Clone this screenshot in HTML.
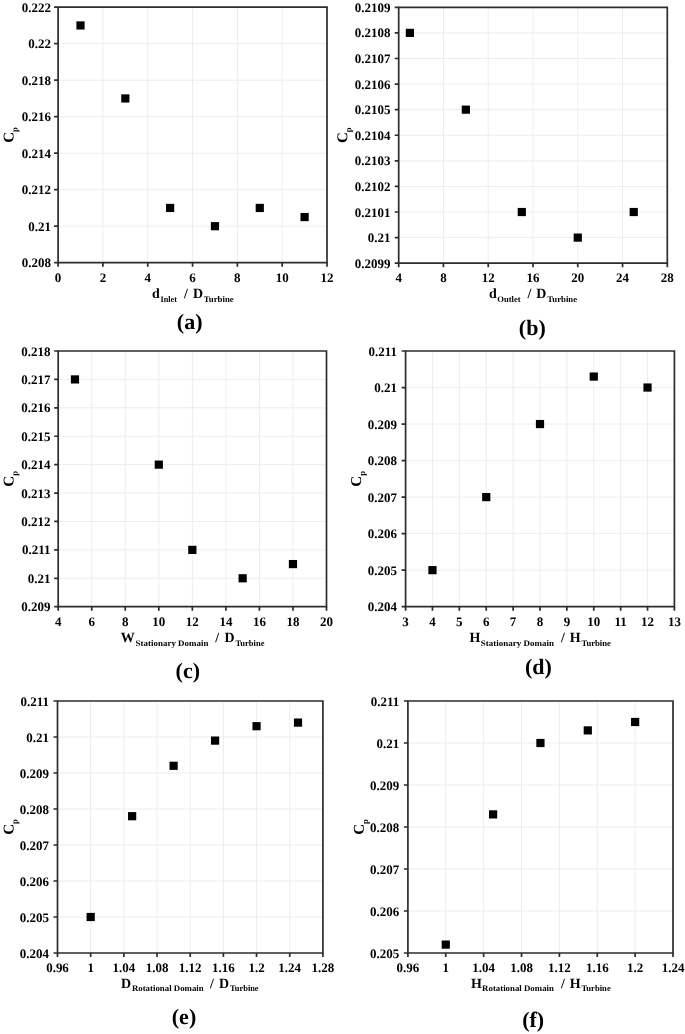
<!DOCTYPE html><html><head><meta charset="utf-8"><title>Cp figure</title><style>
html,body{margin:0;padding:0;background:#fff;width:685px;height:1034px;overflow:hidden}
svg{display:block}text{font-family:"Liberation Serif",serif;font-weight:bold;fill:#000}
.t{font-size:13.00px}.s{font-size:8.50px}.m{font-size:14.00px}.p{font-size:22.00px}
</style></head><body>
<svg width="685" height="1034" viewBox="0 0 685 1034">
<g style="filter:opacity(1)">
<path d="M102.92 7.20V262.70M147.73 7.20V262.70M192.55 7.20V262.70M237.37 7.20V262.70M282.18 7.20V262.70M58.10 226.20H327.00M58.10 189.70H327.00M58.10 153.20H327.00M58.10 116.70H327.00M58.10 80.20H327.00M58.10 43.70H327.00" stroke="#ededed" stroke-width="1" fill="none"/>
<path d="M58.10 7.20H327.00V262.70H58.10Z" stroke="#2c2c2c" stroke-width="1.70" fill="none"/>
<path d="M58.10 262.70V266.70M102.92 262.70V266.70M147.73 262.70V266.70M192.55 262.70V266.70M237.37 262.70V266.70M282.18 262.70V266.70M327.00 262.70V266.70M54.10 262.70H58.10M54.10 226.20H58.10M54.10 189.70H58.10M54.10 153.20H58.10M54.10 116.70H58.10M54.10 80.20H58.10M54.10 43.70H58.10M54.10 7.20H58.10" stroke="#2c2c2c" stroke-width="1.70" fill="none"/>
<text class="t" transform="translate(58.10 282.00) skewX(0.1)" text-anchor="middle">0</text>
<text class="t" transform="translate(102.92 282.00) skewX(0.1)" text-anchor="middle">2</text>
<text class="t" transform="translate(147.73 282.00) skewX(0.1)" text-anchor="middle">4</text>
<text class="t" transform="translate(192.55 282.00) skewX(0.1)" text-anchor="middle">6</text>
<text class="t" transform="translate(237.37 282.00) skewX(0.1)" text-anchor="middle">8</text>
<text class="t" transform="translate(282.18 282.00) skewX(0.1)" text-anchor="middle">10</text>
<text class="t" transform="translate(327.00 282.00) skewX(0.1)" text-anchor="middle">12</text>
<text class="t" transform="translate(50.90 267.00) skewX(0.1)" text-anchor="end">0.208</text>
<text class="t" transform="translate(50.90 231.00) skewX(0.1)" text-anchor="end">0.21</text>
<text class="t" transform="translate(50.90 194.00) skewX(0.1)" text-anchor="end">0.212</text>
<text class="t" transform="translate(50.90 158.00) skewX(0.1)" text-anchor="end">0.214</text>
<text class="t" transform="translate(50.90 121.00) skewX(0.1)" text-anchor="end">0.216</text>
<text class="t" transform="translate(50.90 85.00) skewX(0.1)" text-anchor="end">0.218</text>
<text class="t" transform="translate(50.90 48.00) skewX(0.1)" text-anchor="end">0.22</text>
<text class="t" transform="translate(50.90 12.00) skewX(0.1)" text-anchor="end">0.222</text>
<rect x="76.41" y="21.35" width="8.20" height="8.20" fill="#000"/>
<rect x="121.22" y="94.35" width="8.20" height="8.20" fill="#000"/>
<rect x="166.04" y="203.85" width="8.20" height="8.20" fill="#000"/>
<rect x="210.86" y="222.10" width="8.20" height="8.20" fill="#000"/>
<rect x="255.67" y="203.85" width="8.20" height="8.20" fill="#000"/>
<rect x="300.49" y="212.97" width="8.20" height="8.20" fill="#000"/>
<text class="cp" transform="translate(13.40 134.95) rotate(-89.9)" text-anchor="middle" style="font-size:15.00px">C<tspan dy="4.10" style="font-size:8.50px">p</tspan></text>
<text class="m k0" transform="translate(152.10 297.80) skewX(0.1)">d</text>
<text class="s k1" transform="translate(160.50 301.60) skewX(0.1)" textLength="16.40" lengthAdjust="spacingAndGlyphs">Inlet</text>
<text class="m k2" transform="translate(183.90 297.80) skewX(0.1)">/</text>
<text class="m k3" transform="translate(193.00 297.80) skewX(0.1)">D</text>
<text class="s k4" transform="translate(203.80 301.60) skewX(0.1)" textLength="29.90" lengthAdjust="spacingAndGlyphs">Turbine</text>
<text class="p pl" transform="translate(189.70 328.60) skewX(0.1)" text-anchor="middle">(a)</text>
<path d="M443.47 7.30V263.20M488.23 7.30V263.20M533.00 7.30V263.20M577.77 7.30V263.20M622.53 7.30V263.20M398.70 237.61H667.30M398.70 212.02H667.30M398.70 186.43H667.30M398.70 160.84H667.30M398.70 135.25H667.30M398.70 109.66H667.30M398.70 84.07H667.30M398.70 58.48H667.30M398.70 32.89H667.30" stroke="#ededed" stroke-width="1" fill="none"/>
<path d="M398.70 7.30H667.30V263.20H398.70Z" stroke="#2c2c2c" stroke-width="1.70" fill="none"/>
<path d="M398.70 263.20V267.20M443.47 263.20V267.20M488.23 263.20V267.20M533.00 263.20V267.20M577.77 263.20V267.20M622.53 263.20V267.20M667.30 263.20V267.20M394.70 263.20H398.70M394.70 237.61H398.70M394.70 212.02H398.70M394.70 186.43H398.70M394.70 160.84H398.70M394.70 135.25H398.70M394.70 109.66H398.70M394.70 84.07H398.70M394.70 58.48H398.70M394.70 32.89H398.70M394.70 7.30H398.70" stroke="#2c2c2c" stroke-width="1.70" fill="none"/>
<text class="t" transform="translate(398.70 282.00) skewX(0.1)" text-anchor="middle">4</text>
<text class="t" transform="translate(443.47 282.00) skewX(0.1)" text-anchor="middle">8</text>
<text class="t" transform="translate(488.23 282.00) skewX(0.1)" text-anchor="middle">12</text>
<text class="t" transform="translate(533.00 282.00) skewX(0.1)" text-anchor="middle">16</text>
<text class="t" transform="translate(577.77 282.00) skewX(0.1)" text-anchor="middle">20</text>
<text class="t" transform="translate(622.53 282.00) skewX(0.1)" text-anchor="middle">24</text>
<text class="t" transform="translate(667.30 282.00) skewX(0.1)" text-anchor="middle">28</text>
<text class="t" transform="translate(390.60 268.00) skewX(0.1)" text-anchor="end">0.2099</text>
<text class="t" transform="translate(390.60 242.00) skewX(0.1)" text-anchor="end">0.21</text>
<text class="t" transform="translate(390.60 217.00) skewX(0.1)" text-anchor="end">0.2101</text>
<text class="t" transform="translate(390.60 191.00) skewX(0.1)" text-anchor="end">0.2102</text>
<text class="t" transform="translate(390.60 165.00) skewX(0.1)" text-anchor="end">0.2103</text>
<text class="t" transform="translate(390.60 140.00) skewX(0.1)" text-anchor="end">0.2104</text>
<text class="t" transform="translate(390.60 114.00) skewX(0.1)" text-anchor="end">0.2105</text>
<text class="t" transform="translate(390.60 89.00) skewX(0.1)" text-anchor="end">0.2106</text>
<text class="t" transform="translate(390.60 63.00) skewX(0.1)" text-anchor="end">0.2107</text>
<text class="t" transform="translate(390.60 37.00) skewX(0.1)" text-anchor="end">0.2108</text>
<text class="t" transform="translate(390.60 12.00) skewX(0.1)" text-anchor="end">0.2109</text>
<rect x="405.79" y="28.79" width="8.20" height="8.20" fill="#000"/>
<rect x="461.75" y="105.56" width="8.20" height="8.20" fill="#000"/>
<rect x="517.71" y="207.92" width="8.20" height="8.20" fill="#000"/>
<rect x="573.67" y="233.51" width="8.20" height="8.20" fill="#000"/>
<rect x="629.62" y="207.92" width="8.20" height="8.20" fill="#000"/>
<text class="cp" transform="translate(347.20 135.25) rotate(-89.9)" text-anchor="middle" style="font-size:15.00px">C<tspan dy="4.10" style="font-size:8.50px">p</tspan></text>
<text class="m k0" transform="translate(489.00 298.10) skewX(0.1)">d</text>
<text class="s k1" transform="translate(497.30 302.00) skewX(0.1)" textLength="23.30" lengthAdjust="spacingAndGlyphs">Outlet</text>
<text class="m k2" transform="translate(527.60 298.10) skewX(0.1)">/</text>
<text class="m k3" transform="translate(536.30 298.10) skewX(0.1)">D</text>
<text class="s k4" transform="translate(547.30 302.00) skewX(0.1)" textLength="29.80" lengthAdjust="spacingAndGlyphs">Turbine</text>
<text class="p pl" transform="translate(532.30 334.50) skewX(0.1)" text-anchor="middle">(b)</text>
<path d="M91.74 351.00V606.70M125.28 351.00V606.70M158.81 351.00V606.70M192.35 351.00V606.70M225.89 351.00V606.70M259.43 351.00V606.70M292.96 351.00V606.70M58.20 578.29H326.50M58.20 549.88H326.50M58.20 521.47H326.50M58.20 493.06H326.50M58.20 464.64H326.50M58.20 436.23H326.50M58.20 407.82H326.50M58.20 379.41H326.50" stroke="#ededed" stroke-width="1" fill="none"/>
<path d="M58.20 351.00H326.50V606.70H58.20Z" stroke="#2c2c2c" stroke-width="1.70" fill="none"/>
<path d="M58.20 606.70V610.70M91.74 606.70V610.70M125.28 606.70V610.70M158.81 606.70V610.70M192.35 606.70V610.70M225.89 606.70V610.70M259.43 606.70V610.70M292.96 606.70V610.70M326.50 606.70V610.70M54.20 606.70H58.20M54.20 578.29H58.20M54.20 549.88H58.20M54.20 521.47H58.20M54.20 493.06H58.20M54.20 464.64H58.20M54.20 436.23H58.20M54.20 407.82H58.20M54.20 379.41H58.20M54.20 351.00H58.20" stroke="#2c2c2c" stroke-width="1.70" fill="none"/>
<text class="t" transform="translate(58.20 626.00) skewX(0.1)" text-anchor="middle">4</text>
<text class="t" transform="translate(91.74 626.00) skewX(0.1)" text-anchor="middle">6</text>
<text class="t" transform="translate(125.28 626.00) skewX(0.1)" text-anchor="middle">8</text>
<text class="t" transform="translate(158.81 626.00) skewX(0.1)" text-anchor="middle">10</text>
<text class="t" transform="translate(192.35 626.00) skewX(0.1)" text-anchor="middle">12</text>
<text class="t" transform="translate(225.89 626.00) skewX(0.1)" text-anchor="middle">14</text>
<text class="t" transform="translate(259.43 626.00) skewX(0.1)" text-anchor="middle">16</text>
<text class="t" transform="translate(292.96 626.00) skewX(0.1)" text-anchor="middle">18</text>
<text class="t" transform="translate(326.50 626.00) skewX(0.1)" text-anchor="middle">20</text>
<text class="t" transform="translate(50.60 611.00) skewX(0.1)" text-anchor="end">0.209</text>
<text class="t" transform="translate(50.60 583.00) skewX(0.1)" text-anchor="end">0.21</text>
<text class="t" transform="translate(50.60 554.00) skewX(0.1)" text-anchor="end">0.211</text>
<text class="t" transform="translate(50.60 526.00) skewX(0.1)" text-anchor="end">0.212</text>
<text class="t" transform="translate(50.60 498.00) skewX(0.1)" text-anchor="end">0.213</text>
<text class="t" transform="translate(50.60 469.00) skewX(0.1)" text-anchor="end">0.214</text>
<text class="t" transform="translate(50.60 441.00) skewX(0.1)" text-anchor="end">0.215</text>
<text class="t" transform="translate(50.60 412.00) skewX(0.1)" text-anchor="end">0.216</text>
<text class="t" transform="translate(50.60 384.00) skewX(0.1)" text-anchor="end">0.217</text>
<text class="t" transform="translate(50.60 356.00) skewX(0.1)" text-anchor="end">0.218</text>
<rect x="70.87" y="375.31" width="8.20" height="8.20" fill="#000"/>
<rect x="154.71" y="460.54" width="8.20" height="8.20" fill="#000"/>
<rect x="188.25" y="545.78" width="8.20" height="8.20" fill="#000"/>
<rect x="238.56" y="574.19" width="8.20" height="8.20" fill="#000"/>
<rect x="288.86" y="559.98" width="8.20" height="8.20" fill="#000"/>
<text class="cp" transform="translate(13.50 478.85) rotate(-89.9)" text-anchor="middle" style="font-size:15.00px">C<tspan dy="4.10" style="font-size:8.50px">p</tspan></text>
<text class="m k0" transform="translate(120.80 641.90) skewX(0.1)">W</text>
<text class="s k1" transform="translate(135.60 645.90) skewX(0.1)" textLength="72.80" lengthAdjust="spacingAndGlyphs">Stationary Domain</text>
<text class="m k2" transform="translate(215.20 641.90) skewX(0.1)">/</text>
<text class="m k3" transform="translate(224.40 641.90) skewX(0.1)">D</text>
<text class="s k4" transform="translate(235.50 645.90) skewX(0.1)" textLength="28.90" lengthAdjust="spacingAndGlyphs">Turbine</text>
<text class="p pl" transform="translate(187.80 678.20) skewX(0.1)" text-anchor="middle">(c)</text>
<path d="M432.48 351.00V606.70M459.36 351.00V606.70M486.24 351.00V606.70M513.12 351.00V606.70M540.00 351.00V606.70M566.88 351.00V606.70M593.76 351.00V606.70M620.64 351.00V606.70M647.52 351.00V606.70M405.60 570.17H674.40M405.60 533.64H674.40M405.60 497.11H674.40M405.60 460.59H674.40M405.60 424.06H674.40M405.60 387.53H674.40" stroke="#ededed" stroke-width="1" fill="none"/>
<path d="M405.60 351.00H674.40V606.70H405.60Z" stroke="#2c2c2c" stroke-width="1.70" fill="none"/>
<path d="M405.60 606.70V610.70M432.48 606.70V610.70M459.36 606.70V610.70M486.24 606.70V610.70M513.12 606.70V610.70M540.00 606.70V610.70M566.88 606.70V610.70M593.76 606.70V610.70M620.64 606.70V610.70M647.52 606.70V610.70M674.40 606.70V610.70M401.60 606.70H405.60M401.60 570.17H405.60M401.60 533.64H405.60M401.60 497.11H405.60M401.60 460.59H405.60M401.60 424.06H405.60M401.60 387.53H405.60M401.60 351.00H405.60" stroke="#2c2c2c" stroke-width="1.70" fill="none"/>
<text class="t" transform="translate(405.60 626.00) skewX(0.1)" text-anchor="middle">3</text>
<text class="t" transform="translate(432.48 626.00) skewX(0.1)" text-anchor="middle">4</text>
<text class="t" transform="translate(459.36 626.00) skewX(0.1)" text-anchor="middle">5</text>
<text class="t" transform="translate(486.24 626.00) skewX(0.1)" text-anchor="middle">6</text>
<text class="t" transform="translate(513.12 626.00) skewX(0.1)" text-anchor="middle">7</text>
<text class="t" transform="translate(540.00 626.00) skewX(0.1)" text-anchor="middle">8</text>
<text class="t" transform="translate(566.88 626.00) skewX(0.1)" text-anchor="middle">9</text>
<text class="t" transform="translate(593.76 626.00) skewX(0.1)" text-anchor="middle">10</text>
<text class="t" transform="translate(620.64 626.00) skewX(0.1)" text-anchor="middle">11</text>
<text class="t" transform="translate(647.52 626.00) skewX(0.1)" text-anchor="middle">12</text>
<text class="t" transform="translate(674.40 626.00) skewX(0.1)" text-anchor="middle">13</text>
<text class="t" transform="translate(397.10 611.00) skewX(0.1)" text-anchor="end">0.204</text>
<text class="t" transform="translate(397.10 575.00) skewX(0.1)" text-anchor="end">0.205</text>
<text class="t" transform="translate(397.10 538.00) skewX(0.1)" text-anchor="end">0.206</text>
<text class="t" transform="translate(397.10 502.00) skewX(0.1)" text-anchor="end">0.207</text>
<text class="t" transform="translate(397.10 465.00) skewX(0.1)" text-anchor="end">0.208</text>
<text class="t" transform="translate(397.10 429.00) skewX(0.1)" text-anchor="end">0.209</text>
<text class="t" transform="translate(397.10 392.00) skewX(0.1)" text-anchor="end">0.21</text>
<text class="t" transform="translate(397.10 356.00) skewX(0.1)" text-anchor="end">0.211</text>
<rect x="428.38" y="566.07" width="8.20" height="8.20" fill="#000"/>
<rect x="482.14" y="493.01" width="8.20" height="8.20" fill="#000"/>
<rect x="535.90" y="419.96" width="8.20" height="8.20" fill="#000"/>
<rect x="589.66" y="372.47" width="8.20" height="8.20" fill="#000"/>
<rect x="643.42" y="383.43" width="8.20" height="8.20" fill="#000"/>
<text class="cp" transform="translate(361.00 478.85) rotate(-89.9)" text-anchor="middle" style="font-size:15.00px">C<tspan dy="4.10" style="font-size:8.50px">p</tspan></text>
<text class="m k0" transform="translate(469.60 641.90) skewX(0.1)">H</text>
<text class="s k1" transform="translate(480.70 645.90) skewX(0.1)" textLength="73.20" lengthAdjust="spacingAndGlyphs">Stationary Domain</text>
<text class="m k2" transform="translate(560.90 641.90) skewX(0.1)">/</text>
<text class="m k3" transform="translate(569.70 641.90) skewX(0.1)">H</text>
<text class="s k4" transform="translate(581.40 645.90) skewX(0.1)" textLength="29.50" lengthAdjust="spacingAndGlyphs">Turbine</text>
<text class="p pl" transform="translate(538.40 674.10) skewX(0.1)" text-anchor="middle">(d)</text>
<path d="M90.67 701.00V953.00M123.85 701.00V953.00M157.02 701.00V953.00M190.20 701.00V953.00M223.38 701.00V953.00M256.55 701.00V953.00M289.72 701.00V953.00M57.50 917.00H322.90M57.50 881.00H322.90M57.50 845.00H322.90M57.50 809.00H322.90M57.50 773.00H322.90M57.50 737.00H322.90" stroke="#ededed" stroke-width="1" fill="none"/>
<path d="M57.50 701.00H322.90V953.00H57.50Z" stroke="#2c2c2c" stroke-width="1.70" fill="none"/>
<path d="M57.50 953.00V957.00M90.67 953.00V957.00M123.85 953.00V957.00M157.02 953.00V957.00M190.20 953.00V957.00M223.38 953.00V957.00M256.55 953.00V957.00M289.72 953.00V957.00M322.90 953.00V957.00M53.50 953.00H57.50M53.50 917.00H57.50M53.50 881.00H57.50M53.50 845.00H57.50M53.50 809.00H57.50M53.50 773.00H57.50M53.50 737.00H57.50M53.50 701.00H57.50" stroke="#2c2c2c" stroke-width="1.70" fill="none"/>
<text class="t" transform="translate(57.50 972.00) skewX(0.1)" text-anchor="middle">0.96</text>
<text class="t" transform="translate(90.67 972.00) skewX(0.1)" text-anchor="middle">1</text>
<text class="t" transform="translate(123.85 972.00) skewX(0.1)" text-anchor="middle">1.04</text>
<text class="t" transform="translate(157.02 972.00) skewX(0.1)" text-anchor="middle">1.08</text>
<text class="t" transform="translate(190.20 972.00) skewX(0.1)" text-anchor="middle">1.12</text>
<text class="t" transform="translate(223.38 972.00) skewX(0.1)" text-anchor="middle">1.16</text>
<text class="t" transform="translate(256.55 972.00) skewX(0.1)" text-anchor="middle">1.2</text>
<text class="t" transform="translate(289.72 972.00) skewX(0.1)" text-anchor="middle">1.24</text>
<text class="t" transform="translate(322.90 972.00) skewX(0.1)" text-anchor="middle">1.28</text>
<text class="t" transform="translate(49.00 958.00) skewX(0.1)" text-anchor="end">0.204</text>
<text class="t" transform="translate(49.00 922.00) skewX(0.1)" text-anchor="end">0.205</text>
<text class="t" transform="translate(49.00 886.00) skewX(0.1)" text-anchor="end">0.206</text>
<text class="t" transform="translate(49.00 850.00) skewX(0.1)" text-anchor="end">0.207</text>
<text class="t" transform="translate(49.00 814.00) skewX(0.1)" text-anchor="end">0.208</text>
<text class="t" transform="translate(49.00 778.00) skewX(0.1)" text-anchor="end">0.209</text>
<text class="t" transform="translate(49.00 742.00) skewX(0.1)" text-anchor="end">0.21</text>
<text class="t" transform="translate(49.00 706.00) skewX(0.1)" text-anchor="end">0.211</text>
<rect x="86.58" y="912.90" width="8.20" height="8.20" fill="#000"/>
<rect x="128.04" y="812.10" width="8.20" height="8.20" fill="#000"/>
<rect x="169.51" y="761.70" width="8.20" height="8.20" fill="#000"/>
<rect x="210.98" y="736.50" width="8.20" height="8.20" fill="#000"/>
<rect x="252.45" y="722.10" width="8.20" height="8.20" fill="#000"/>
<rect x="293.92" y="718.50" width="8.20" height="8.20" fill="#000"/>
<text class="cp" transform="translate(13.50 827.00) rotate(-89.9)" text-anchor="middle" style="font-size:15.00px">C<tspan dy="4.10" style="font-size:8.50px">p</tspan></text>
<text class="m k0" transform="translate(121.10 987.50) skewX(0.1)">D</text>
<text class="s k1" transform="translate(131.90 991.40) skewX(0.1)" textLength="71.80" lengthAdjust="spacingAndGlyphs">Rotational Domain</text>
<text class="m k2" transform="translate(210.00 987.50) skewX(0.1)">/</text>
<text class="m k3" transform="translate(219.10 987.50) skewX(0.1)">D</text>
<text class="s k4" transform="translate(230.00 991.40) skewX(0.1)" textLength="28.60" lengthAdjust="spacingAndGlyphs">Turbine</text>
<text class="p pl" transform="translate(184.00 1024.30) skewX(0.1)" text-anchor="middle">(e)</text>
<path d="M445.77 701.00V953.00M483.64 701.00V953.00M521.51 701.00V953.00M559.39 701.00V953.00M597.26 701.00V953.00M635.13 701.00V953.00M407.90 911.00H673.00M407.90 869.00H673.00M407.90 827.00H673.00M407.90 785.00H673.00M407.90 743.00H673.00" stroke="#ededed" stroke-width="1" fill="none"/>
<path d="M407.90 701.00H673.00V953.00H407.90Z" stroke="#2c2c2c" stroke-width="1.70" fill="none"/>
<path d="M407.90 953.00V957.00M445.77 953.00V957.00M483.64 953.00V957.00M521.51 953.00V957.00M559.39 953.00V957.00M597.26 953.00V957.00M635.13 953.00V957.00M673.00 953.00V957.00M403.90 953.00H407.90M403.90 911.00H407.90M403.90 869.00H407.90M403.90 827.00H407.90M403.90 785.00H407.90M403.90 743.00H407.90M403.90 701.00H407.90" stroke="#2c2c2c" stroke-width="1.70" fill="none"/>
<text class="t" transform="translate(407.90 972.00) skewX(0.1)" text-anchor="middle">0.96</text>
<text class="t" transform="translate(445.77 972.00) skewX(0.1)" text-anchor="middle">1</text>
<text class="t" transform="translate(483.64 972.00) skewX(0.1)" text-anchor="middle">1.04</text>
<text class="t" transform="translate(521.51 972.00) skewX(0.1)" text-anchor="middle">1.08</text>
<text class="t" transform="translate(559.39 972.00) skewX(0.1)" text-anchor="middle">1.12</text>
<text class="t" transform="translate(597.26 972.00) skewX(0.1)" text-anchor="middle">1.16</text>
<text class="t" transform="translate(635.13 972.00) skewX(0.1)" text-anchor="middle">1.2</text>
<text class="t" transform="translate(673.00 972.00) skewX(0.1)" text-anchor="middle">1.24</text>
<text class="t" transform="translate(399.30 958.00) skewX(0.1)" text-anchor="end">0.205</text>
<text class="t" transform="translate(399.30 916.00) skewX(0.1)" text-anchor="end">0.206</text>
<text class="t" transform="translate(399.30 874.00) skewX(0.1)" text-anchor="end">0.207</text>
<text class="t" transform="translate(399.30 832.00) skewX(0.1)" text-anchor="end">0.208</text>
<text class="t" transform="translate(399.30 790.00) skewX(0.1)" text-anchor="end">0.209</text>
<text class="t" transform="translate(399.30 748.00) skewX(0.1)" text-anchor="end">0.21</text>
<text class="t" transform="translate(399.30 706.00) skewX(0.1)" text-anchor="end">0.211</text>
<rect x="441.67" y="940.50" width="8.20" height="8.20" fill="#000"/>
<rect x="489.01" y="810.30" width="8.20" height="8.20" fill="#000"/>
<rect x="536.35" y="738.90" width="8.20" height="8.20" fill="#000"/>
<rect x="583.69" y="726.30" width="8.20" height="8.20" fill="#000"/>
<rect x="631.03" y="717.90" width="8.20" height="8.20" fill="#000"/>
<text class="cp" transform="translate(363.80 827.00) rotate(-89.9)" text-anchor="middle" style="font-size:15.00px">C<tspan dy="4.10" style="font-size:8.50px">p</tspan></text>
<text class="m k0" transform="translate(471.10 987.50) skewX(0.1)">H</text>
<text class="s k1" transform="translate(482.10 991.40) skewX(0.1)" textLength="71.80" lengthAdjust="spacingAndGlyphs">Rotational Domain</text>
<text class="m k2" transform="translate(560.90 987.50) skewX(0.1)">/</text>
<text class="m k3" transform="translate(569.70 987.50) skewX(0.1)">H</text>
<text class="s k4" transform="translate(581.40 991.40) skewX(0.1)" textLength="29.30" lengthAdjust="spacingAndGlyphs">Turbine</text>
<text class="p pl" transform="translate(533.20 1027.40) skewX(0.1)" text-anchor="middle">(f)</text>
</g></svg></body></html>
